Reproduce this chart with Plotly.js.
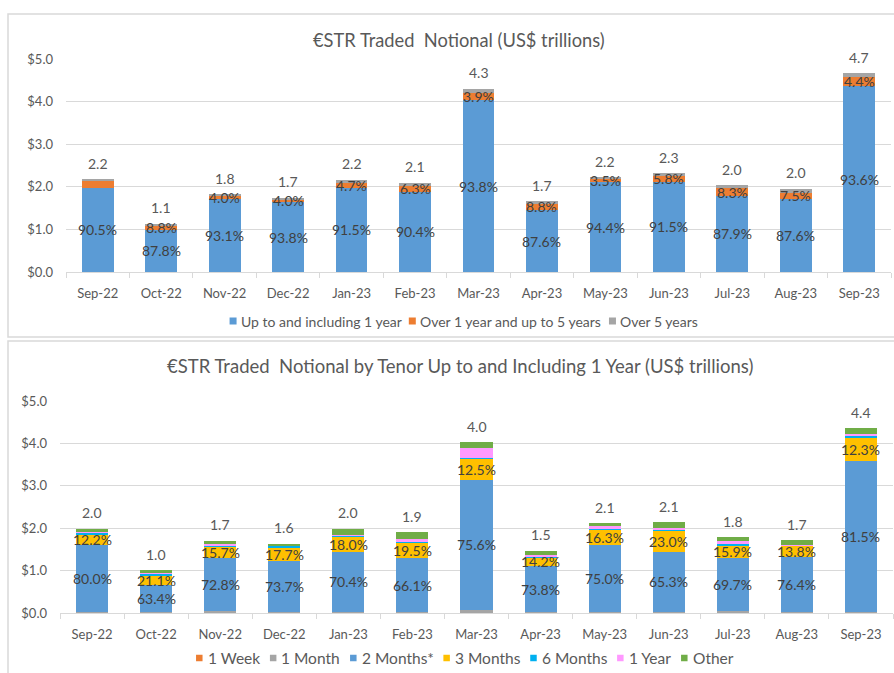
<!DOCTYPE html>
<html>
<head>
<meta charset="utf-8">
<script src="https://cdn.plot.ly/plotly-3.0.1.min.js"></script>
<style>html,body{margin:0;padding:0;background:#fff;}#chart{width:894px;height:673px;}</style>
</head>
<body>
<div id="chart"></div>
<script>
// ---------- DATA ----------
const months = ['Sep-22','Oct-22','Nov-22','Dec-22','Jan-23','Feb-23','Mar-23','Apr-23','May-23','Jun-23','Jul-23','Aug-23','Sep-23'];

// Top chart: total traded notional (US$ trillions) and share by tenor bucket (%)
const topTotals      = [2.18, 1.13, 1.83, 1.74, 2.16, 2.09, 4.30, 1.66, 2.23, 2.32, 2.04, 1.96, 4.66];
const upTo1YearPct   = [90.5, 87.8, 93.1, 93.8, 91.5, 90.4, 93.8, 87.6, 94.4, 91.5, 87.9, 87.6, 93.6];
const over1to5Pct    = [7.1, 8.8, 4.0, 4.0, 4.7, 6.3, 3.9, 8.8, 3.5, 5.8, 8.3, 7.5, 4.4];
const over5Pct       = [2.4, 3.4, 2.9, 2.2, 3.8, 3.3, 2.3, 3.6, 2.1, 2.7, 3.8, 4.9, 2.0];
const over1to5Labels = ['', '8.8%', '4.0%', '4.0%', '4.7%', '6.3%', '3.9%', '8.8%', '3.5%', '5.8%', '8.3%', '7.5%', '4.4%'];
const topSeriesNames = ['Up to and including 1 year', 'Over 1 year and up to 5 years', 'Over 5 years'];

// Bottom chart: up to and including 1 year, by tenor (US$ trillions total, % share)
const botTotals   = [1.99, 1.01, 1.71, 1.63, 1.99, 1.91, 4.03, 1.47, 2.12, 2.14, 1.79, 1.72, 4.36];
const week1Pct    = [0.0, 0.5, 0.5, 0.1, 0.0, 0.0, 0.0, 0.0, 0.0, 0.0, 0.5, 0.0, 0.0];
const month1Pct   = [0.8, 2.5, 2.0, 2.0, 1.6, 1.4, 2.0, 1.0, 1.0, 1.6, 2.7, 1.0, 0.7];
const months2Pct  = [80.0, 63.4, 72.8, 73.7, 70.4, 66.1, 75.6, 73.8, 75.0, 65.3, 69.7, 76.4, 81.5];
const months3Pct  = [12.2, 21.1, 15.7, 17.7, 18.0, 19.5, 12.5, 14.2, 16.3, 23.0, 15.9, 13.8, 12.3];
const months6Pct  = [1.5, 2.5, 2.0, 3.0, 1.5, 1.0, 0.5, 0.5, 1.0, 1.5, 1.5, 1.0, 1.2];
const year1Pct    = [1.0, 4.5, 1.5, 1.0, 1.0, 3.0, 5.9, 3.5, 3.0, 2.0, 4.4, 0.8, 1.2];
const otherPct    = [4.5, 5.5, 5.5, 2.5, 7.5, 9.0, 3.5, 7.0, 3.7, 6.6, 5.3, 7.0, 3.1];
const botSeriesNames = ['1 Week', '1 Month', '2 Months*', '3 Months', '6 Months', '1 Year', 'Other'];

const topTitle = '€STR Traded  Notional (US$ trillions)';
const botTitle = '€STR Traded  Notional by Tenor Up to and Including 1 Year (US$ trillions)';

// ---------- STYLE ----------
const FONT = 'Lato, "Open Sans", sans-serif';
const topColors = ['#5B9BD5', '#ED7D31', '#A5A5A5'];
const botColors = ['#ED7D31', '#A5A5A5', '#5B9BD5', '#FFC000', '#00B0F0', '#FF99FF', '#70AD47'];
const W = 894, H = 673;
const px = v => v / W, py = v => (H - v) / H;

function draw() {
  const traces = [];
  const annotations = [];
  const shapes = [];

  // ---- top chart bars ----
  const topPcts = [upTo1YearPct, over1to5Pct, over5Pct];
  topPcts.forEach((arr, i) => {
    traces.push({
      type: 'bar', x: months, y: arr.map((p, j) => topTotals[j] * p / 100),
      xaxis: 'x', yaxis: 'y', marker: {color: topColors[i]}, name: topSeriesNames[i],
      showlegend: false, hoverinfo: 'skip'
    });
  });

  // ---- bottom chart bars ----
  const botPcts = [week1Pct, month1Pct, months2Pct, months3Pct, months6Pct, year1Pct, otherPct];
  botPcts.forEach((arr, i) => {
    traces.push({
      type: 'bar', x: months, y: arr.map((p, j) => botTotals[j] * p / 100),
      xaxis: 'x2', yaxis: 'y2', marker: {color: botColors[i]}, name: botSeriesNames[i],
      showlegend: false, hoverinfo: 'skip'
    });
  });

  // ---- value labels ----
  const pctFont = {family: FONT, size: 14, color: '#404040'};
  const totFont = {family: FONT, size: 14, color: '#595959'};
  function lab(xr, yr, x, y, text, font, shift) {
    annotations.push({xref: xr, yref: yr, x: x, y: y, text: text, showarrow: false,
      font: font, yanchor: 'middle', yshift: shift || 0});
  }
  months.forEach((m, j) => {
    const t = topTotals[j];
    const b = t * upTo1YearPct[j] / 100;
    const o = t * over1to5Pct[j] / 100;
    lab('x', 'y', m, b / 2, upTo1YearPct[j].toFixed(1) + '%', pctFont);
    if (over1to5Labels[j]) lab('x', 'y', m, b + o / 2, over1to5Labels[j], pctFont);
    lab('x', 'y', m, t, t.toFixed(1), totFont, 16);

    const T = botTotals[j];
    const base = T * (week1Pct[j] + month1Pct[j]) / 100;
    const m2 = T * months2Pct[j] / 100;
    const m3 = T * months3Pct[j] / 100;
    lab('x2', 'y2', m, base + m2 / 2, months2Pct[j].toFixed(1) + '%', pctFont);
    lab('x2', 'y2', m, base + m2 + m3 / 2, months3Pct[j].toFixed(1) + '%', pctFont);
    lab('x2', 'y2', m, T, T.toFixed(1), totFont, 16);
  });

  // ---- titles ----
  annotations.push({xref: 'paper', yref: 'paper', x: px(459), y: py(40), xanchor: 'center', yanchor: 'middle',
    text: topTitle, showarrow: false, font: {family: FONT, size: 18.3, color: '#595959'}});
  annotations.push({xref: 'paper', yref: 'paper', x: px(459.5), y: py(366), xanchor: 'center', yanchor: 'middle',
    text: botTitle, showarrow: false, font: {family: FONT, size: 18.5, color: '#595959'}});

  // ---- legends (compact, Excel-like) ----
  const cvs = document.createElement('canvas').getContext('2d');
  function legendRow(names, colors, centerX, yPix, fontSize, sq, gap, itemGap) {
    cvs.font = fontSize + 'px Lato';
    const widths = names.map(n => cvs.measureText(n).width);
    const total = widths.reduce((a, w) => a + sq + gap + w, 0) + itemGap * (names.length - 1);
    let x = centerX - total / 2;
    names.forEach((n, i) => {
      shapes.push({type: 'rect', xref: 'paper', yref: 'paper',
        x0: px(x), x1: px(x + sq), y0: py(yPix + sq / 2), y1: py(yPix - sq / 2),
        fillcolor: colors[i], line: {width: 0}});
      annotations.push({xref: 'paper', yref: 'paper', x: px(x + sq + gap), y: py(yPix),
        xanchor: 'left', yanchor: 'middle', text: n, showarrow: false,
        font: {family: FONT, size: fontSize, color: '#595959'}, borderpad: 0});
      x += sq + gap + widths[i] + itemGap;
    });
  }
  legendRow(topSeriesNames, topColors, 463.5, 321, 14, 7, 3, 8);
  legendRow(botSeriesNames, botColors, 464, 658, 15.5, 6.5, 4, 11);

  // ---- panel borders ----
  shapes.push({type: 'rect', xref: 'paper', yref: 'paper', x0: px(8), x1: px(900), y0: py(337), y1: py(14),
    line: {color: '#D9D9D9', width: 1.5}, layer: 'below'});
  shapes.push({type: 'rect', xref: 'paper', yref: 'paper', x0: px(8), x1: px(900), y0: py(700), y1: py(341),
    line: {color: '#D9D9D9', width: 1.5}, layer: 'below'});

  const xCommon = {
    type: 'category', showgrid: false, showline: true, linecolor: '#D9D9D9', linewidth: 1,
    ticks: 'outside', tickson: 'boundaries', ticklen: 5, tickcolor: '#D9D9D9',
    tickfont: {family: FONT, size: 13, color: '#595959'}, fixedrange: true
  };
  const yCommon = {
    range: [0, 5], dtick: 1, tickprefix: '$', tickformat: '.1f', showgrid: true, gridcolor: '#D9D9D9',
    gridwidth: 1, zeroline: false, showline: false, ticks: '', ticklabelstandoff: 12,
    tickfont: {family: FONT, size: 13, color: '#595959'}, fixedrange: true
  };

  const layout = {
    width: W, height: H,
    margin: {l: 0, r: 0, t: 0, b: 0, pad: 0},
    paper_bgcolor: '#fff', plot_bgcolor: '#fff',
    barmode: 'stack', bargap: 0.5,
    font: {family: FONT, color: '#595959'},
    showlegend: false,
    xaxis: Object.assign({}, xCommon, {domain: [px(66), px(891)], anchor: 'y', ticklabelstandoff: 9}),
    yaxis: Object.assign({}, yCommon, {domain: [py(272), py(59)], anchor: 'x'}),
    xaxis2: Object.assign({}, xCommon, {domain: [px(60), px(893)], anchor: 'y2', ticklabelstandoff: 9}),
    yaxis2: Object.assign({}, yCommon, {domain: [py(613), py(401)], anchor: 'x2'}),
    annotations: annotations,
    shapes: shapes
  };

  Plotly.newPlot('chart', traces, layout, {displayModeBar: false, staticPlot: true});
}

if (document.fonts && document.fonts.load) {
  Promise.all([document.fonts.load('14px Lato'), document.fonts.ready]).then(draw, draw);
} else {
  draw();
}
</script>
</body>
</html>
